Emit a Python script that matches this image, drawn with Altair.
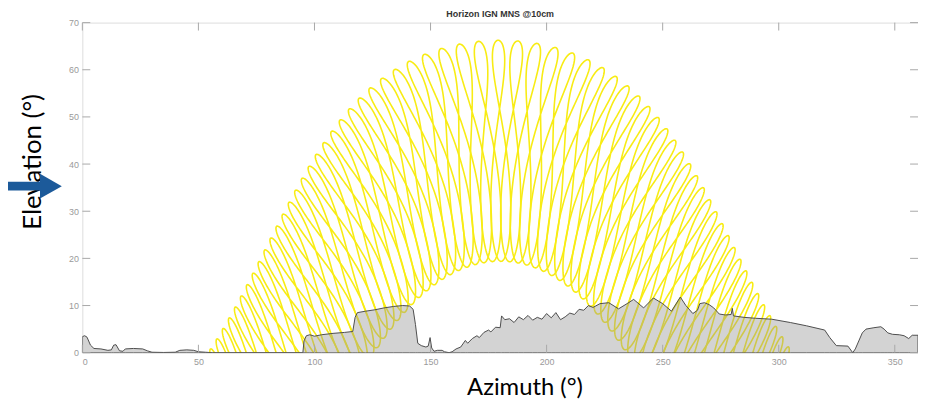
import math
import numpy as np
import pandas as pd
import altair as alt

alt.data_transformers.disable_max_rows()

# ---------------- values ----------------
TITLE = "Horizon IGN MNS @10cm"
X_TITLE = "Azimuth (°)"
Y_TITLE = "Elevation (°)"
X_TICKS = [0, 50, 100, 150, 200, 250, 300, 350]
Y_TICKS = [0, 10, 20, 30, 40, 50, 60, 70]

# Horizon profile (azimuth deg, elevation deg)
HORIZON_AZ = [0, 1, 2, 3.5, 5, 8, 11, 12.5, 13.5, 14.5, 16, 17.5, 18.5, 22, 26, 28, 30, 35, 40,
              42, 45, 48, 50, 53, 56, 95, 95.5, 96.5, 98, 100, 103, 108, 113, 116.5, 117.5, 118.5,
              122, 126, 130, 134, 138, 141, 142.5, 143.5, 144.5, 146, 148, 149, 149.8, 150.5,
              151.5, 153, 155, 156, 158, 159.3, 161, 163, 165, 166, 168, 170, 171, 173, 175, 176,
              178, 180, 180.6, 182, 184, 186, 188, 190, 192, 194, 196, 198, 200, 202, 204, 206,
              208, 210, 212, 214, 216, 218, 220, 223, 226.8, 231, 235, 237.5, 241.8, 246, 250,
              253.8, 257.6, 260, 263, 265, 266, 268, 270, 272, 274.4, 277, 279.5, 280, 280.5,
              285, 290, 297, 305, 312, 319.8, 322, 324.8, 329.8, 331.9, 333, 334.5, 336, 337.6,
              341, 344, 345.4, 347, 349, 352, 354, 356, 357.5, 360]
HORIZON_EL = [3.4, 3.6, 3.3, 1.6, 0.9, 0.8, 0.5, 0.6, 1.6, 1.7, 0.4, 0.3, 0.8, 0.9, 0.8, 0.4, 0.1,
              0.05, 0.1, 0.5, 0.6, 0.5, 0.2, 0.1, 0.0, 0.0, 2.5, 3.6, 3.8, 3.5, 3.8, 4.1, 4.3, 4.5,
              7.5, 8.5, 8.8, 9.1, 9.5, 9.8, 10.0, 9.9, 9.2, 6.0, 2.0, 1.5, 1.2, 1.4, 3.2, 1.0, 0.3,
              0.5, 0.5, 0.2, 0.0, 0.2, 0.8, 1.2, 2.6, 2.0, 3.0, 3.6, 3.2, 4.3, 4.8, 4.4, 5.4, 5.3,
              7.8, 7.0, 7.2, 6.4, 7.6, 7.0, 7.9, 6.9, 7.5, 7.1, 8.3, 7.4, 8.5, 7.0, 7.6, 8.4, 8.1,
              9.2, 9.0, 10.0, 9.6, 10.4, 10.6, 9.3, 10.5, 11.3, 9.5, 11.6, 10.4, 8.8, 11.8, 10.0,
              8.3, 9.0, 10.4, 10.6, 10.2, 9.5, 8.2, 8.0, 8.1, 9.4, 7.8, 7.5, 7.3, 7.1, 6.4, 5.7,
              4.8, 3.2, 1.5, 1.4, 0.0, 0.8, 2.5, 4.2, 5.0, 5.3, 5.5, 5.0, 4.2, 3.9, 3.8, 3.6, 3.0,
              3.7, 3.7]

# Sun-path loops: one yearly loop per clock time, every 15 minutes.
SUMMER_NOON_EL = 66.3   # top of the highest loop
WINTER_NOON_EL = 19.3   # bottom of the inner arc
LOOP_STEP_MIN = 15
FIRST_LOOP_HOUR = 3.5
LAST_LOOP_HOUR = 20.5

LAT = 90.0 - (SUMMER_NOON_EL + WINTER_NOON_EL) / 2.0

# ---------------- build loop table ----------------
rows = []
phi = math.radians(LAT)
n_loops = int(round((LAST_LOOP_HOUR - FIRST_LOOP_HOUR) * 60 / LOOP_STEP_MIN)) + 1
days = list(range(1, 366, 2)) + [1]
for k in range(n_loops):
    t = FIRST_LOOP_HOUR + k * LOOP_STEP_MIN / 60.0
    pts = []
    for i, d in enumerate(days):
        g = 2 * math.pi * (d - 1) / 365.0
        eot = 229.18 * (0.000075 + 0.001868 * math.cos(g) - 0.032077 * math.sin(g)
                        - 0.014615 * math.cos(2 * g) - 0.040849 * math.sin(2 * g))
        dec = (0.006918 - 0.399912 * math.cos(g) + 0.070257 * math.sin(g)
               - 0.006758 * math.cos(2 * g) + 0.000907 * math.sin(2 * g)
               - 0.002697 * math.cos(3 * g) + 0.00148 * math.sin(3 * g))
        H = math.radians((t * 60 + eot) / 4.0 - 180.0)
        se = math.sin(phi) * math.sin(dec) + math.cos(phi) * math.cos(dec) * math.cos(H)
        el = math.degrees(math.asin(max(-1, min(1, se))))
        az = math.degrees(math.atan2(math.sin(H),
                                     math.cos(H) * math.sin(phi) - math.tan(dec) * math.cos(phi))) + 180
        pts.append((i, az, el))
    if max(p[2] for p in pts) > 0:
        for i, az, el in pts:
            rows.append({"loop": k, "i": i, "az": az, "el": el})
loops = pd.DataFrame(rows)

horizon = pd.DataFrame({"az": HORIZON_AZ, "el": HORIZON_EL})

# ---------------- chart ----------------
W, H_ = 843, 333
AXIS_GRAY = "#A8A8A8"
LABEL_GRAY = "#9A9A9A"
YELLOW = "#F8EC14"
BLUE = "#1C5A9A"

xs = alt.Scale(domain=[0, 360], nice=False, zero=False)
ys = alt.Scale(domain=[0, 70], nice=False, zero=False)
x_axis = alt.Axis(values=X_TICKS, ticks=False, domain=False, grid=False,
                  labelColor=LABEL_GRAY, labelFontSize=9, labelFont="Liberation Sans",
                  labelPadding=5, title=X_TITLE, titleFont="Lato", titleFontSize=24,
                  titleFontWeight="normal", titleColor="#000000",
                  titleX=446, titleY=35, titleAlign="center", titleBaseline="middle")
y_axis = alt.Axis(values=Y_TICKS, ticks=False, domain=False, grid=False,
                  labelColor=LABEL_GRAY, labelFontSize=9, labelFont="Liberation Sans",
                  labelPadding=4, title=Y_TITLE, titleFont="Lato", titleFontSize=26,
                  titleFontWeight="normal", titleColor="#000000", titleAngle=270,
                  titleX=-50, titleY=140, titleAlign="center", titleBaseline="middle")

X = alt.X("az:Q", scale=xs, axis=x_axis)
Y = alt.Y("el:Q", scale=ys, axis=y_axis)

loop_layer = alt.Chart(loops).mark_line(color=YELLOW, strokeWidth=1.6, clip=True).encode(
    x=X, y=Y, detail="loop:N", order="i:Q")

horizon_layer = alt.Chart(horizon).mark_area(
    color="#959595", fillOpacity=0.42, stroke="#4D4D4D", strokeWidth=1, clip=True,
    interpolate="linear").encode(x=X, y=Y)

xt = pd.DataFrame({"az": X_TICKS})
yt = pd.DataFrame({"el": Y_TICKS})
tick_bottom = alt.Chart(xt).mark_rule(color=AXIS_GRAY, strokeWidth=1).encode(
    x=X, y=alt.value(H_), y2=alt.value(H_ - 8))
tick_top = alt.Chart(xt).mark_rule(color=AXIS_GRAY, strokeWidth=1).encode(
    x=X, y=alt.value(0), y2=alt.value(8))
tick_left = alt.Chart(yt).mark_rule(color=AXIS_GRAY, strokeWidth=1).encode(
    y=Y, x=alt.value(0), x2=alt.value(8))
tick_right = alt.Chart(yt).mark_rule(color=AXIS_GRAY, strokeWidth=1).encode(
    y=Y, x=alt.value(W), x2=alt.value(W - 8))

one = pd.DataFrame({"a": [0]})
title_layer = alt.Chart(one).mark_text(
    text=TITLE, fontSize=9, fontWeight="bold", color="#333333", font="Liberation Sans",
    align="center", baseline="middle").encode(x=alt.value(W / 2), y=alt.value(-9))
arrow_shaft = alt.Chart(one).mark_rule(color=BLUE, strokeWidth=9).encode(
    x=alt.value(-75), x2=alt.value(-40), y=alt.value(165))
arrow_head = alt.Chart(one).mark_point(
    shape="M-0.88,-1L0.88,0L-0.88,1Z", filled=True, size=625, color=BLUE, opacity=1).encode(
    x=alt.value(-31.7), y=alt.value(165))

chart = alt.layer(
    loop_layer, horizon_layer, tick_bottom, tick_top, tick_left, tick_right,
    title_layer, arrow_shaft, arrow_head
).properties(
    width=W, height=H_,
    autosize=alt.AutoSizeParams(type="none"),
    padding={"left": 75, "top": 13, "right": 0, "bottom": 47},
).configure_view(stroke=AXIS_GRAY, strokeWidth=1.2).configure(background="white")

chart.save("out.html", embed_options={"renderer": "svg", "actions": False})
